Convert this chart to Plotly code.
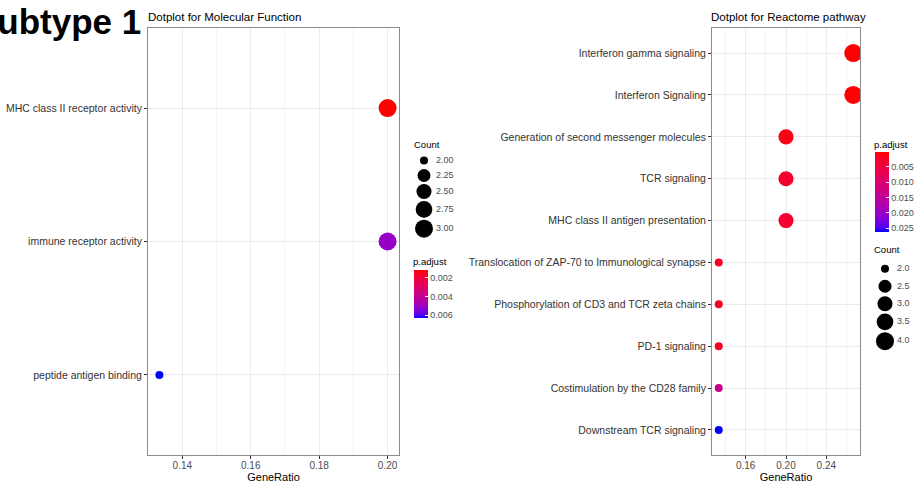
import math
import plotly.graph_objects as go

W, H = 917, 484

# ---------------- data ----------------
mf_terms = ["MHC class II receptor activity", "immune receptor activity", "peptide antigen binding"]
mf_ratio = [0.2, 0.2, 0.1333]
mf_count = [3, 3, 2]
mf_padj = [0.0012, 0.0051, 0.0063]

re_terms = ["Interferon gamma signaling", "Interferon Signaling",
            "Generation of second messenger molecules", "TCR signaling",
            "MHC class II antigen presentation",
            "Translocation of ZAP-70 to Immunological synapse",
            "Phosphorylation of CD3 and TCR zeta chains", "PD-1 signaling",
            "Costimulation by the CD28 family", "Downstream TCR signaling"]
re_ratio = [0.2667, 0.2667, 0.2, 0.2, 0.2, 0.1333, 0.1333, 0.1333, 0.1333, 0.1333]
re_count = [4, 4, 3, 3, 3, 2, 2, 2, 2, 2]
re_padj = [0.0002, 0.0004, 0.0012, 0.0030, 0.0035, 0.0025, 0.0025, 0.0025, 0.0135, 0.0263]

mf_count_breaks = [2.00, 2.25, 2.50, 2.75, 3.00]
mf_count_labels = ["2.00", "2.25", "2.50", "2.75", "3.00"]
re_count_breaks = [2.0, 2.5, 3.0, 3.5, 4.0]
re_count_labels = ["2.0", "2.5", "3.0", "3.5", "4.0"]
mf_padj_breaks = [0.002, 0.004, 0.006]
re_padj_breaks = [0.005, 0.010, 0.015, 0.020, 0.025]

FONT = "Liberation Sans, Arial, sans-serif"

# ---------------- colour scale (Lab interpolation red -> blue) ----------------
def _lin(c):
    c = c / 255.0
    return c / 12.92 if c <= 0.04045 else ((c + 0.055) / 1.055) ** 2.4

def _f(t):
    return t ** (1 / 3) if t > 0.008856 else 7.787 * t + 16 / 116

def _finv(t):
    return t ** 3 if t ** 3 > 0.008856 else (t - 16 / 116) / 7.787

def rgb2lab(r, g, b):
    R, G, B = _lin(r), _lin(g), _lin(b)
    X = 0.4124 * R + 0.3576 * G + 0.1805 * B
    Y = 0.2126 * R + 0.7152 * G + 0.0722 * B
    Z = 0.0193 * R + 0.1192 * G + 0.9505 * B
    fx, fy, fz = _f(X / 0.95047), _f(Y / 1.0), _f(Z / 1.08883)
    return 116 * fy - 16, 500 * (fx - fy), 200 * (fy - fz)

def lab2rgb(L, a, b):
    fy = (L + 16) / 116
    fx = fy + a / 500
    fz = fy - b / 200
    X, Y, Z = _finv(fx) * 0.95047, _finv(fy), _finv(fz) * 1.08883
    R = 3.2406 * X - 1.5372 * Y - 0.4986 * Z
    G = -0.9689 * X + 1.8758 * Y + 0.0415 * Z
    B = 0.0557 * X - 0.2040 * Y + 1.0570 * Z
    out = []
    for c in (R, G, B):
        c = 12.92 * c if c <= 0.0031308 else 1.055 * c ** (1 / 2.4) - 0.055
        out.append(int(round(min(1, max(0, c)) * 255)))
    return "rgb(%d,%d,%d)" % tuple(out)

red_lab = rgb2lab(255, 0, 0)
blue_lab = rgb2lab(0, 0, 255)
colorscale = []
N = 20
for i in range(N + 1):
    s = i / N  # 0 -> blue (largest p), 1 -> red (smallest p)
    lab = [blue_lab[k] + (red_lab[k] - blue_lab[k]) * s for k in range(3)]
    colorscale.append([s, lab2rgb(*lab)])

# ---------------- size scale (ggplot area scale) ----------------
def size_px(v, lo, hi, dmin=8.0, dmax=18.0):
    t = (v - lo) / (hi - lo)
    return dmin + (dmax - dmin) * math.sqrt(max(0.0, t))

def expand(vals, mult=0.05):
    lo, hi = min(vals), max(vals)
    d = (hi - lo) * mult
    return [lo - d, hi + d]

fig = go.Figure()

def px_x(a, b):
    return [a / W, b / W]

def px_y(top, bottom):
    return [1 - bottom / H, 1 - top / H]

panel_top, panel_bot = 28, 455

mf_sizes = [size_px(c, min(mf_count), max(mf_count)) for c in mf_count]
re_sizes = [size_px(c, min(re_count), max(re_count)) for c in re_count]

fig.add_trace(go.Scatter(
    x=mf_ratio, y=mf_terms, mode="markers", xaxis="x", yaxis="y",
    marker=dict(size=mf_sizes, color=[-p for p in mf_padj], coloraxis="coloraxis",
                line=dict(width=0), opacity=1),
    showlegend=False, hoverinfo="skip"))

fig.add_trace(go.Scatter(
    x=re_ratio, y=re_terms, mode="markers", xaxis="x2", yaxis="y2",
    marker=dict(size=re_sizes, color=[-p for p in re_padj], coloraxis="coloraxis2",
                line=dict(width=0), opacity=1),
    showlegend=False, hoverinfo="skip"))

axis_common = dict(
    showline=True, mirror=True, linecolor="#8c8c8c", linewidth=1,
    ticks="outside", ticklen=3, tickcolor="#333333", tickwidth=1,
    showgrid=True, gridcolor="#ebebeb", gridwidth=1, zeroline=False,
)
xcommon = {**axis_common, "tickfont": dict(family=FONT, size=10, color="#4d4d4d"),
           "ticklabelstandoff": -2}
ycommon = {**axis_common, "tickfont": dict(family=FONT, size=10.5, color="#333")}
xtitle = dict(text="GeneRatio", font=dict(family=FONT, size=11, color="#000"), standoff=0)

fig.update_layout(
    xaxis=dict(domain=px_x(148, 399), anchor="y", range=expand(mf_ratio),
               tick0=0.14, dtick=0.02, tickformat=".2f",
               minor=dict(dtick=0.01, tick0=0.13, showgrid=True, gridcolor="#f3f3f3", gridwidth=0.6, ticklen=0),
               title=xtitle, **xcommon),
    yaxis=dict(domain=px_y(panel_top, panel_bot), anchor="x", type="category",
               categoryorder="array", categoryarray=mf_terms,
               range=[len(mf_terms) - 0.4, -0.6], **ycommon),
    xaxis2=dict(domain=px_x(712, 860), anchor="y2", range=expand(re_ratio),
                tick0=0.16, dtick=0.04, tickformat=".2f",
                minor=dict(dtick=0.02, tick0=0.14, showgrid=True, gridcolor="#f3f3f3", gridwidth=0.6, ticklen=0),
                title=xtitle, **xcommon),
    yaxis2=dict(domain=px_y(panel_top, panel_bot), anchor="x2", type="category",
                categoryorder="array", categoryarray=re_terms,
                range=[len(re_terms) - 0.4, -0.6], **ycommon),
    # overlay axis in pixel units for the size legends
    xaxis3=dict(domain=[0, 1], range=[0, W], visible=False, fixedrange=True, anchor="y3"),
    yaxis3=dict(domain=[0, 1], range=[H, 0], visible=False, fixedrange=True, anchor="x3"),
)

# ---------------- colour bars ----------------
def colorbar(pvals, breaks, x_left, top, length):
    return dict(
        colorscale=colorscale, cmin=-max(pvals), cmax=-min(pvals),
        colorbar=dict(
            x=x_left / W, xanchor="left", xref="paper",
            y=1 - top / H, yanchor="top", yref="paper",
            len=length, lenmode="pixels", thickness=14, thicknessmode="pixels",
            xpad=0, ypad=0, outlinewidth=0,
            tickvals=[-b for b in breaks], ticktext=[("%.3f" % b) for b in breaks],
            ticks="inside", ticklen=3, tickcolor="white", tickwidth=1,
            tickfont=dict(family=FONT, size=9, color="#4d4d4d"),
        ))

fig.update_layout(
    coloraxis=colorbar(mf_padj, mf_padj_breaks, 414, 270, 48),
    coloraxis2=colorbar(re_padj, re_padj_breaks, 875, 152, 80),
)

# ---------------- size legends ----------------
def size_legend(breaks, labels, lo, hi, x_dot, x_lab, top, min_h):
    sizes = [size_px(b, lo, hi) for b in breaks]
    ys, y = [], top
    for s in sizes:
        h = max(min_h, s + 2)
        ys.append(y + h / 2)
        y += h
    fig.add_trace(go.Scatter(
        x=[x_dot] * len(breaks), y=ys, mode="markers", xaxis="x3", yaxis="y3",
        marker=dict(size=sizes, color="#000000", line=dict(width=0), opacity=1),
        showlegend=False, hoverinfo="skip", cliponaxis=False))
    fig.add_trace(go.Scatter(
        x=[x_lab] * len(breaks), y=ys, mode="text", text=labels, textposition="middle right",
        textfont=dict(family=FONT, size=9, color="#4d4d4d"), xaxis="x3", yaxis="y3",
        showlegend=False, hoverinfo="skip", cliponaxis=False))

size_legend(mf_count_breaks, mf_count_labels, min(mf_count), max(mf_count), 424, 436, 153, 15)
size_legend(re_count_breaks, re_count_labels, min(re_count), max(re_count), 885, 897, 260, 17.5)

# ---------------- text annotations ----------------
def ann(text, x, y, size, xanchor="left", weight="normal", color="#000"):
    fig.add_annotation(text=text, x=x / W, y=1 - y / H, xref="paper", yref="paper",
                       xanchor=xanchor, yanchor="middle", showarrow=False, borderpad=0,
                       font=dict(family=FONT, size=size, color=color, weight=weight))

ann("Subtype 1", 142, 21, 35, xanchor="right", weight="bold")
ann("Dotplot for Molecular Function", 147, 17, 11.5)
ann("Dotplot for Reactome pathway", 710, 17, 11.5)
ann("Count", 413, 144, 9.5)
ann("p.adjust", 412, 261, 9.5)
ann("p.adjust", 873, 144, 9.5)
ann("Count", 873, 250, 9.5)

fig.update_layout(
    width=W, height=H, autosize=False,
    margin=dict(l=0, r=0, t=0, b=0, pad=0, autoexpand=False),
    paper_bgcolor="white", plot_bgcolor="rgba(0,0,0,0)",
    font=dict(family=FONT),
)

fig.write_html("out.html", config={"displayModeBar": False},
               post_script="document.body.style.margin='0';document.body.style.overflow='hidden';")
